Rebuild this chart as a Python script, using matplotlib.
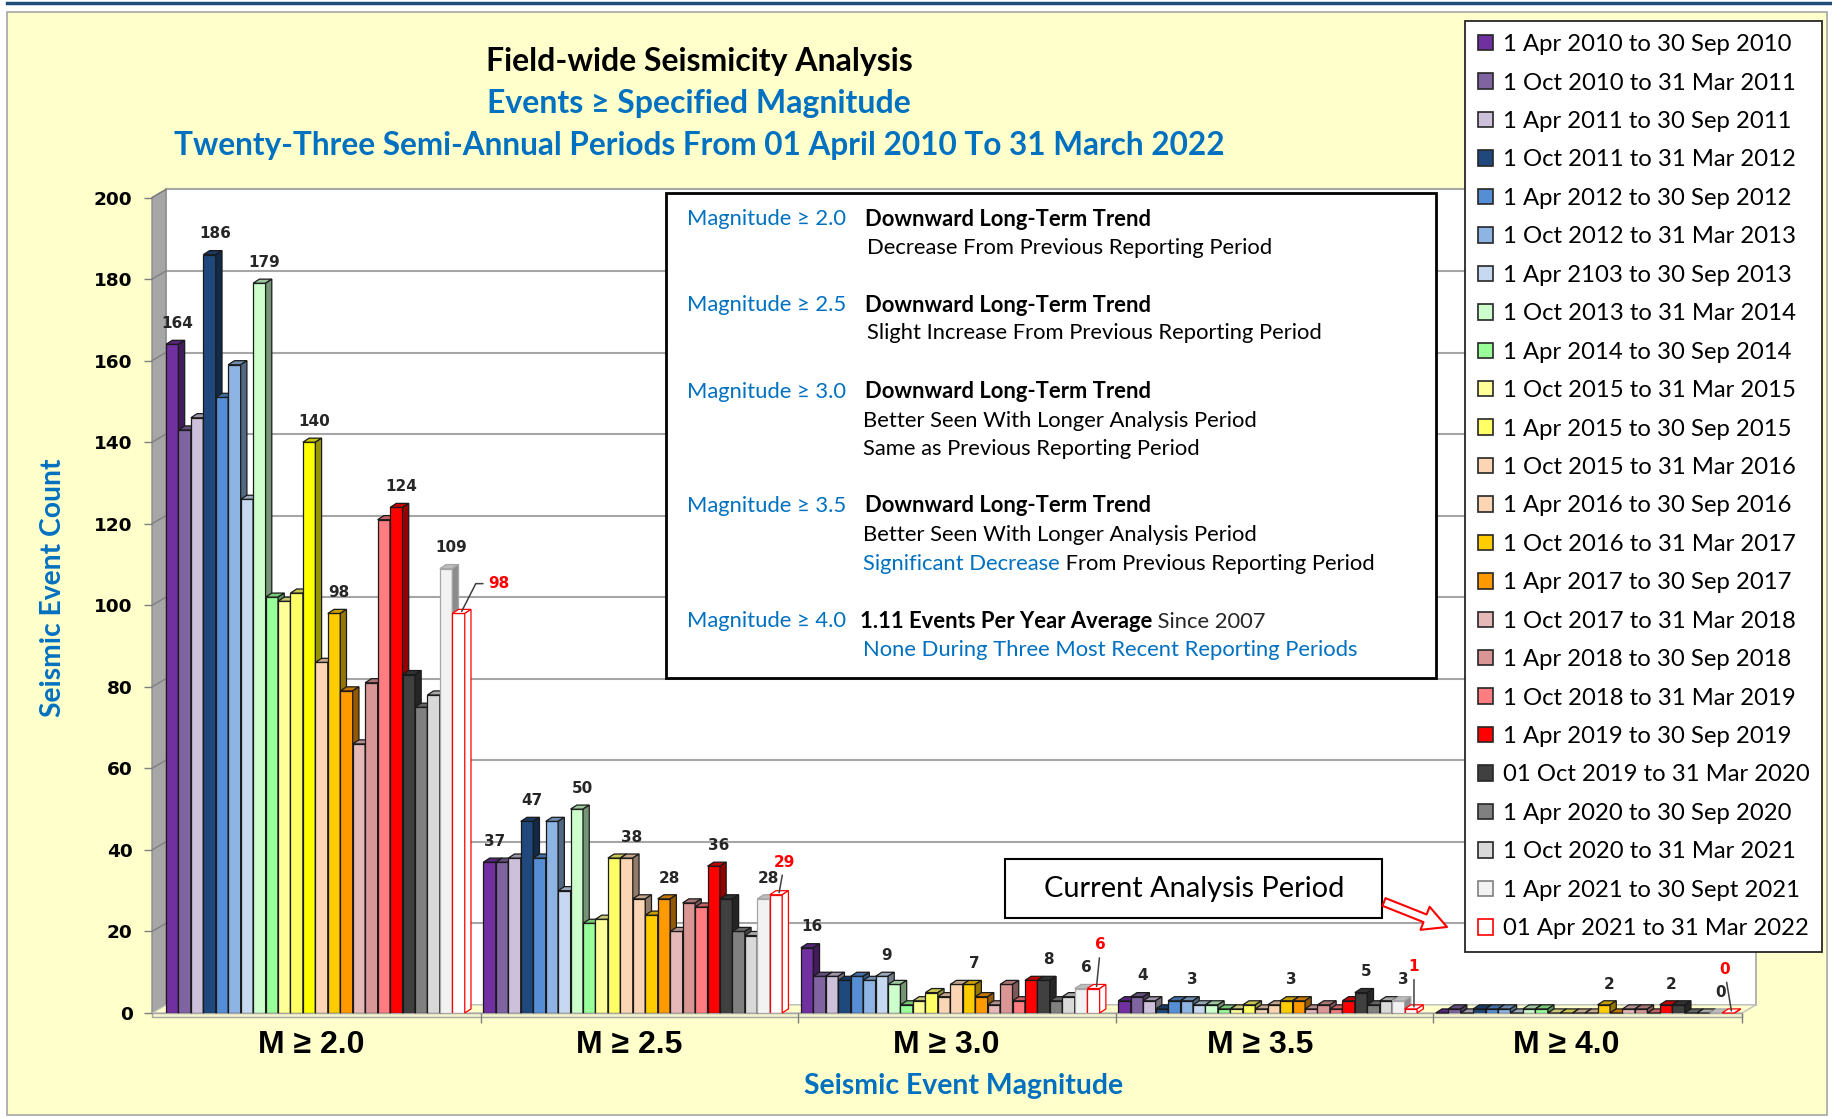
import numpy as np
import matplotlib
matplotlib.use("Agg")
import matplotlib.pyplot as plt
from matplotlib.colors import to_rgb
from matplotlib.patches import Rectangle, Patch

plt.rcParams['font.family'] = ['Lato', 'DejaVu Sans']

# ---- data ----
magnitudes = ['M ≥ 2.0', 'M ≥ 2.5', 'M ≥ 3.0', 'M ≥ 3.5', 'M ≥ 4.0']
periods = ['1 Apr 2010 to 30 Sep 2010', '1 Oct 2010 to 31 Mar 2011', '1 Apr 2011 to 30 Sep 2011',
           '1 Oct 2011 to 31 Mar 2012', '1 Apr 2012 to 30 Sep 2012', '1 Oct 2012 to 31 Mar 2013',
           '1 Apr 2103 to 30 Sep 2013', '1 Oct 2013 to 31 Mar 2014', '1 Apr 2014 to 30 Sep 2014',
           '1 Oct 2015 to 31 Mar 2015', '1 Apr 2015 to 30 Sep 2015', '1 Oct 2015 to 31 Mar 2016',
           '1 Apr 2016 to 30 Sep 2016', '1 Oct 2016 to 31 Mar 2017', '1 Apr 2017 to 30 Sep 2017',
           '1 Oct 2017 to 31 Mar 2018', '1 Apr 2018 to 30 Sep 2018', '1 Oct 2018 to 31 Mar 2019',
           '1 Apr 2019 to 30 Sep 2019', '01 Oct 2019 to 31 Mar 2020', '1 Apr 2020 to 30 Sep 2020',
           '1 Oct 2020 to 31 Mar 2021', '1 Apr 2021 to 30 Sept 2021', '01 Apr 2021 to 31 Mar 2022']

m20 = [164, 143, 146, 186, 151, 159, 126, 179, 102, 101, 103, 140, 86, 98, 79, 66, 81, 121, 124, 83, 75, 78, 109, 98]
m25 = [37, 37, 38, 47, 38, 47, 30, 50, 22, 23, 38, 38, 28, 24, 28, 20, 27, 26, 36, 28, 20, 19, 28, 29]
m30 = [16, 9, 9, 8, 9, 8, 9, 7, 2, 3, 5, 4, 7, 7, 4, 2, 7, 3, 8, 8, 3, 4, 6, 6]
m35 = [3, 4, 3, 1, 3, 3, 2, 2, 1, 1, 2, 1, 2, 3, 3, 1, 2, 1, 3, 5, 2, 3, 3, 1]
m40 = [0, 1, 0, 1, 1, 1, 0, 1, 1, 0, 0, 0, 0, 2, 0, 1, 1, 0, 2, 2, 0, 0, 0, 0]
counts = [m20, m25, m30, m35, m40]

# bars that carry a value label in each group (last bar always gets the red one)
labelled = [[0, 3, 7, 11, 13, 18, 22], [0, 3, 7, 11, 14, 18, 22], [0, 6, 13, 19, 22],
            [1, 5, 13, 19, 22], [13, 18, 22]]

colors = ['#7030A0', '#8064A2', '#CCC0DA', '#1F497D', '#558ED5', '#8DB4E2', '#C6D9F1',
          '#CCFFCC', '#99FF99', '#FFFF99', '#FFFF66', '#FCD5B5', '#FCD5B5', '#FFCC00',
          '#FF9900', '#E6B9B8', '#D99694', '#FF7C80', '#FF0000', '#404040', '#808080',
          '#D9D9D9', '#F2F2F2', '#FFFFFF']
edges = ['#1A1A1A'] * 22 + ['#A6A6A6', '#FF0000']
point_colors = {(0, 11): '#FFFF00'}

BLUE = '#0070C0'
W, H = 1833, 1118
PITCH = 25.5          # group spacing in bar widths
DX, DY = 0.5, 1.0     # bar depth
WX, WY = 1.124, 2.0   # wall depth
X1 = 126.6
label_shift = [11.7, 11.7, 11.7, 11.4, 10.5]   # front-axis perspective for the group labels


def shade(c, f):
    r, g, b = to_rgb(c)
    return (r * f, g * f, b * f)


fig = plt.figure(figsize=(W / 100, H / 100), dpi=100)

# background panel
bg = fig.add_axes([0, 0, 1, 1], zorder=-1)
bg.set_xlim(0, W)
bg.set_ylim(H, 0)
bg.axis('off')
bg.add_patch(Rectangle((7, 12), W - 13, H - 15, facecolor='#FFFFCC', edgecolor='#A6A6A6', lw=1.2))
bg.plot([7, W], [3, 3], color='#1F4E79', lw=2.5)

# main chart
ax = fig.add_axes([152 / W, 105 / H, 1590 / W, 815.4 / H])
ax.set_xlim(-WX, X1)
ax.set_ylim(0, 200)
ax.patch.set_visible(False)
for s in ax.spines.values():
    s.set_visible(False)

ax.fill([-WX, 0, 0, -WX], [0, WY, 200 + WY, 200], fc='#A6A6A6', ec='#8C8C8C', lw=1, zorder=0.5, clip_on=False)
ax.fill([0, X1 + WX, X1 + WX, 0], [WY, WY, 200 + WY, 200 + WY], fc='white', ec='#A6A6A6', lw=1.2,
        zorder=0.4, clip_on=False)
ax.fill([-WX, X1, X1 + WX, 0], [0, 0, WY, WY], fc='#FFFFCC', ec='#BFBFBF', lw=1, zorder=0.6, clip_on=False)
ax.fill([-WX, X1, X1, -WX], [0, 0, -0.9, -0.9], fc='#F5F5CC', ec='#A6A6A6', lw=1, zorder=0.6, clip_on=False)
for v in range(20, 201, 20):
    ax.plot([0, X1 + WX], [v + WY] * 2, color='#A6A6A6', lw=1.5, zorder=0.45, clip_on=False)
    ax.plot([-WX, 0], [v, v + WY], color='#7F7F7F', lw=1, zorder=0.55, clip_on=False)

for g, vals in enumerate(counts):
    for j, v in enumerate(vals):
        x = g * PITCH + j
        c = point_colors.get((g, j), colors[j])
        ec = edges[j]
        z = 2 + j * 0.01
        if c == '#FFFFFF':
            top, side = 'white', 'white'
        else:
            top, side = shade(c, 0.78), shade(c, 0.58)
        ax.bar(x, v, width=1, align='edge', color=c, edgecolor=ec, lw=0.9, zorder=z)
        ax.fill([x, x + 1, x + 1 + DX, x + DX], [v, v, v + DY, v + DY], fc=top, ec=ec, lw=0.9,
                zorder=z, clip_on=False)
        ax.fill([x + 1, x + 1 + DX, x + 1 + DX, x + 1], [0, DY, v + DY, v], fc=side, ec=ec, lw=0.9,
                zorder=z, clip_on=False)

    for j in labelled[g]:
        ax.annotate(str(vals[j]), xy=(g * PITCH + j + 0.5 + DX / 2, vals[j] + DY / 2),
                    xytext=(1.5, 13.5), textcoords='offset points', ha='center', va='center',
                    fontsize=11, fontweight='bold', family='DejaVu Sans', color='#262626', zorder=10)

# red labels for the current analysis period
red_offsets = [(27, 20), (4, 22), (3, 30), (0, 29), (-5, 30)]
red_conn = ['angle,angleA=0,angleB=63,rad=0', 'arc3', 'arc3', 'arc3', 'arc3']
for g, vals in enumerate(counts):
    j = len(vals) - 1
    ax.annotate(str(vals[j]), xy=(g * PITCH + j + 0.5 + DX / 2, vals[j] + DY / 2),
                xytext=red_offsets[g], textcoords='offset points', ha='center', va='center',
                fontsize=11, fontweight='bold', family='DejaVu Sans', color='#FF0000', zorder=10,
                arrowprops=dict(arrowstyle='-', color='#404040', lw=1.1, shrinkA=2, shrinkB=0,
                                connectionstyle=red_conn[g]))

ax.set_yticks(range(0, 201, 20))
ax.tick_params(axis='y', length=6, width=1, color='#7F7F7F', pad=8, labelsize=13.3)
for lbl in ax.get_yticklabels():
    lbl.set_fontweight('bold')
    lbl.set_family('DejaVu Sans')

ax.set_xticks([g * PITCH - 0.2 for g in range(1, 5)] + [X1])
ax.set_xticklabels([])
ax.set_xticks([g * PITCH + label_shift[g] for g in range(5)], minor=True)
ax.set_xticklabels(magnitudes, minor=True, fontsize=23, fontweight='bold', family='Liberation Sans')
ax.tick_params(axis='x', which='major', length=7, width=1, color='#7F7F7F')
ax.tick_params(axis='x', which='minor', length=0, pad=12)

# overlay in pixel coordinates for titles, notes and callouts
ov = fig.add_axes([0, 0, 1, 1], zorder=3)
ov.set_xlim(0, W)
ov.set_ylim(H, 0)
ov.axis('off')

ov.text(699, 61, 'Field-wide Seismicity Analysis', ha='center', va='center', fontsize=23, fontweight='bold')
ov.text(699, 103, 'Events ≥ Specified Magnitude', ha='center', va='center', fontsize=23,
        fontweight='bold', color=BLUE)
ov.text(699, 145, 'Twenty-Three Semi-Annual Periods From 01 April 2010 To 31 March 2022', ha='center',
        va='center', fontsize=22.7, fontweight='bold', color=BLUE)
ov.text(53, 588, 'Seismic Event Count', ha='center', va='center', rotation=90, fontsize=20.3,
        fontweight='bold', color=BLUE)
ov.text(964, 1086, 'Seismic Event Magnitude', ha='center', va='center', fontsize=20.4,
        fontweight='bold', color=BLUE)

# notes box
ov.add_patch(Rectangle((666, 193), 770, 485, facecolor='white', edgecolor='black', lw=2))
fs = 15.8
rows = [219, 305, 392, 506, 621]
for r, m in zip(rows, ['2.0', '2.5', '3.0', '3.5', '4.0']):
    ov.text(687, r, 'Magnitude ≥ ' + m, va='center', fontsize=fs, color=BLUE)
for r in rows[:4]:
    ov.text(865, r, 'Downward Long-Term Trend', va='center', fontsize=fs, fontweight='bold')
ov.text(867, 248, 'Decrease From Previous Reporting Period', va='center', fontsize=fs)
ov.text(867, 333, 'Slight Increase From Previous Reporting Period', va='center', fontsize=fs)
ov.text(863, 421, 'Better Seen With Longer Analysis Period', va='center', fontsize=fs)
ov.text(863, 449, 'Same as Previous Reporting Period', va='center', fontsize=fs)
ov.text(863, 535, 'Better Seen With Longer Analysis Period', va='center', fontsize=fs)
t = ov.text(863, 564, 'Significant Decrease', va='center', fontsize=fs, color=BLUE)
ov.annotate(' From Previous Reporting Period', xy=(1, 0), xycoords=t, va='bottom', ha='left', fontsize=fs)
t = ov.text(860, 621, '1.11 Events Per Year Average', va='center', fontsize=fs, fontweight='bold')
ov.annotate(' Since 2007', xy=(1, 0), xycoords=t, va='bottom', ha='left', fontsize=fs, color='#262626')
ov.text(863, 650, 'None During Three Most Recent Reporting Periods', va='center', fontsize=fs, color=BLUE)

# current analysis period callout
ov.add_patch(Rectangle((1005, 859), 377, 59, facecolor='white', edgecolor='black', lw=1.5))
ov.text(1194, 889, 'Current Analysis Period', ha='center', va='center', fontsize=20.9)
ov.annotate('', xy=(1447, 927), xytext=(1384, 902),
            arrowprops=dict(arrowstyle='simple,head_length=1.0,head_width=1.05,tail_width=0.35',
                            fc='white', ec='red', lw=1.5, mutation_scale=17, shrinkA=0, shrinkB=0))

# legend
handles = [Patch(facecolor=c, edgecolor=e if e != '#1A1A1A' else '#262626', lw=1.2)
           for c, e in zip(colors, edges)]
handles[-2] = Patch(facecolor=colors[-2], edgecolor='#7F7F7F', lw=1.2)
leg = fig.legend(handles, periods, loc='upper left', bbox_to_anchor=(1465 / W, 1 - 21 / H),
                 fontsize=17.2, frameon=True, fancybox=False, framealpha=1, edgecolor='#262626',
                 handlelength=0.62, handleheight=0.62, handletextpad=0.4, labelspacing=0.73,
                 borderpad=0.55, borderaxespad=0)
leg.get_frame().set_linewidth(1.3)

fig.savefig('out.png', dpi=100)
